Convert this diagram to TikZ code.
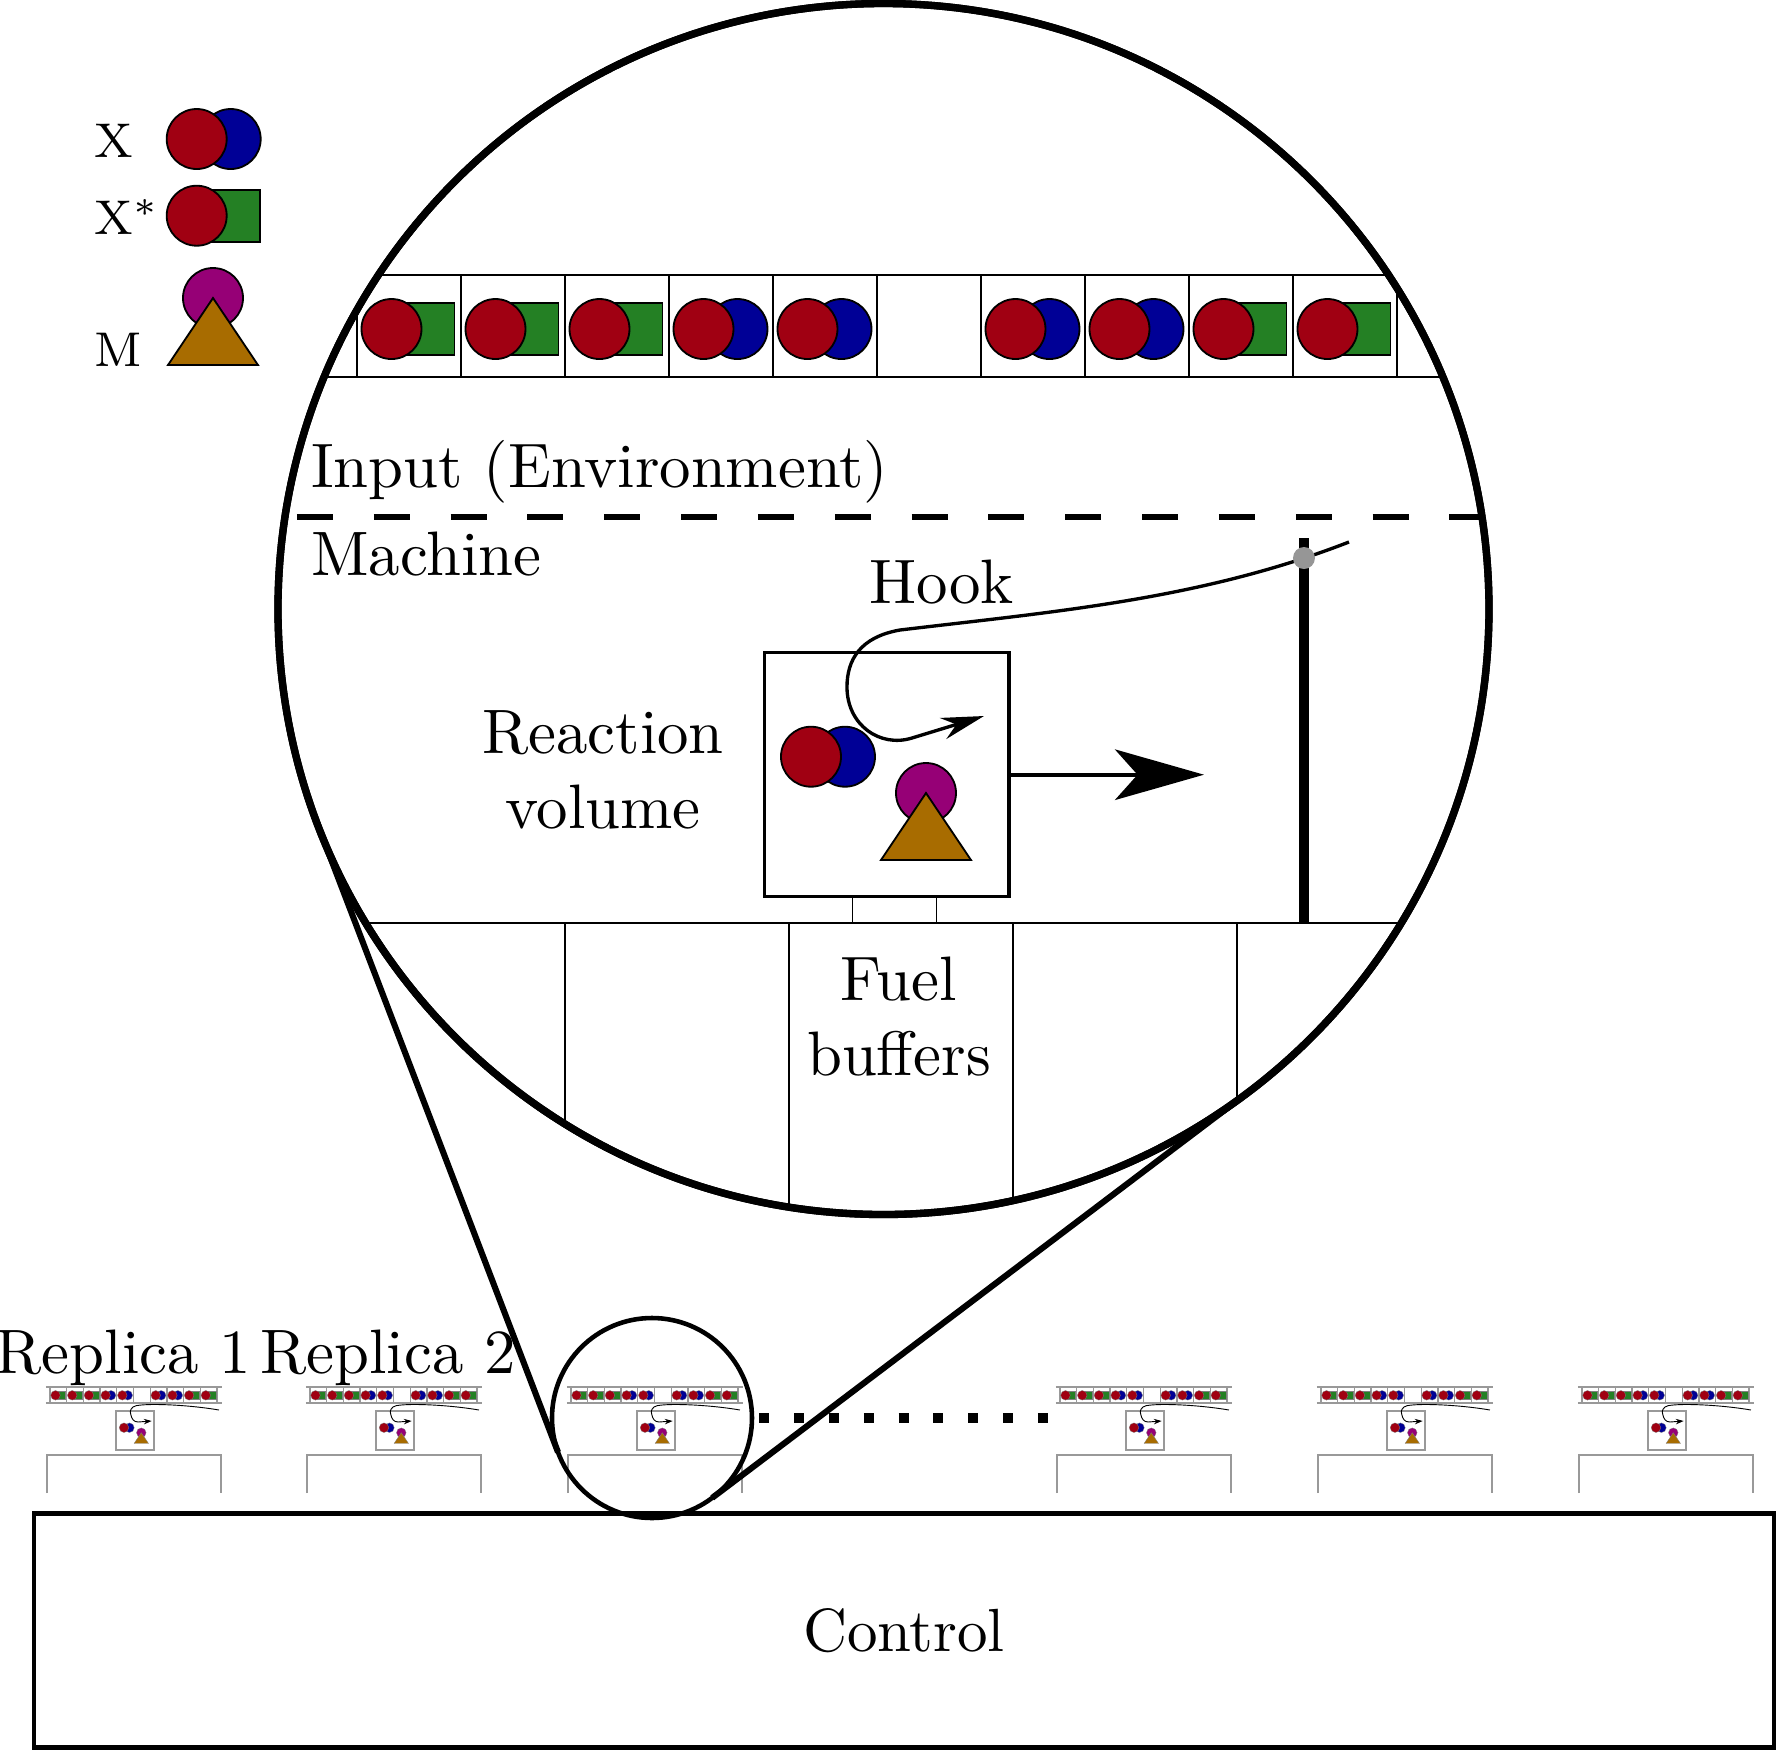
\documentclass[tikz,border=0pt]{standalone}
\usepackage{tikz}
\usetikzlibrary{arrows.meta,positioning,calc}
\usepackage{xcolor}
\definecolor{xred}{RGB}{160,0,18}
\definecolor{xblue}{RGB}{0,0,150}
\definecolor{xgreen}{RGB}{36,128,36}
\definecolor{mpurple}{RGB}{150,0,118}
\definecolor{mbrown}{RGB}{168,108,0}
\definecolor{hingegrey}{RGB}{150,150,150}
\newcommand{\pxu}{0.164pt}

\tikzset{
  mol/.style={draw=black, line width=0.3pt},
  mini/.style={draw=black!40, line width=0.2pt},
  molx/.pic={
    \path[mol, fill=xblue] (34,0) circle (30);
    \path[mol, fill=xred] (0,0) circle (30);
  },
  molxs/.pic={
    \path[mol, fill=xgreen] (0,-26) rectangle (63,26);
    \path[mol, fill=xred] (0,0) circle (30);
  },
  molm/.pic={
    \path[mol, fill=mpurple] (0,0) circle (30);
    \path[mol, fill=mbrown] (0,0) -- (45,67) -- (-45,67) -- cycle;
  },
  emptycell/.pic={},
  % one replica, drawn small
  minirep/.pic={
    \tikzset{mol/.style={draw=black!50, line width=0.05pt}}
    \draw[mini] (-4,0) -- (172,0) (-4,16) -- (172,16);
    \foreach \k in {0,...,10}
      \draw[mini] (16.7*\k,0) -- (16.7*\k,16);
    \foreach \m [count=\k from 0] in {molxs,molxs,molxs,molx,molx,emptycell,molx,molx,molxs,molxs}
      \pic[scale=0.16] at (16.7*\k+5.5,8.3) {\m};
    \draw[mini] (66,24) rectangle (104,63);
    \pic[scale=0.16] at (74,40.7) {molx};
    \pic[scale=0.16] at (91.3,45.7) {molm};
    \draw[line width=0.15pt, -{Stealth[length=1.3pt, width=0.9pt]}]
      (169,23) .. controls (140,18) and (100,16) .. (86,18.7)
      .. controls (81,20) and (79.5,24) .. (80.7,27)
      .. controls (81.5,32) and (84,35) .. (88,35) -- (101.7,34);
    \draw[mini] (-3,106) -- (-3,68) -- (171,68) -- (171,106);
  },
}

\begin{document}
\begin{tikzpicture}[
  x=\pxu, y=-\pxu,
  lbl/.style={inner sep=0pt, font=\fontsize{10.3}{12.3}\selectfont},
  legend/.style={inner sep=0pt, font=\footnotesize},
  tape/.style={line width=0.35pt},
  fuelline/.style={line width=0.28pt},
  divider/.style={line width=1.1pt, dash pattern=on 5.9pt off 6.7pt},
  rvbox/.style={draw, line width=0.5pt, minimum width=244.5*\pxu, minimum height=244*\pxu, inner sep=0pt, outer sep=0pt},
  bigarrow/.style={line width=0.6pt, -{Stealth[length=14.6pt, width=8.3pt, inset=3.7pt]}},
  hookline/.style={line width=0.55pt, -{Stealth[length=7pt, width=3.6pt]}},
  pole/.style={line width=1.8pt},
  ring/.style={circle, draw, inner sep=0pt, outer sep=0pt},
  spyline/.style={line width=1pt},
  dotrow/.style={line width=1.64pt, dash pattern=on 1.64pt off 4.07pt},
]
\useasboundingbox (0,0) rectangle (1778,1752);

% legend
\node[legend, anchor=base west] (lblX) at (93,157) {X};
\pic at (196.7,139) {molx};
\node[legend, anchor=base west] (lblXs) at (93,234) {X$^*$};
\pic at (196.7,215.7) {molxs};
\node[legend, anchor=base west] (lblM) at (93,366) {M};
\pic at (213,298) {molm};

% replicas on the control
\foreach \ox in {50,310,571,1060,1321,1582}
  \pic at (\ox,1387) {minirep};
\node[lbl, anchor=base] (rep1) at (123.5,1373) {Replica 1};
\node[lbl, anchor=base] (rep2) at (388,1373) {Replica 2};
\draw[dotrow] (759.4,1417.7) -- (1050,1417.7);
\node[draw, line width=0.8pt, minimum width=1740*\pxu, minimum height=233.5*\pxu, inner sep=0pt, outer sep=0pt] (control) at (904,1630.5) {Control};

% magnified replica
\coordinate (zc) at (883.5,609);
\node[ring, line width=0.75pt, minimum size=200*\pxu] (lens) at (652,1418) {};
\node[ring, line width=1.2pt, minimum size=1211*\pxu] (zoom) at (zc) {};
\draw[spyline] (zoom.200.95) -- (lens.200.95);
\draw[spyline] (zoom.307.11) -- (lens.307.11);

\begin{scope}
  \clip (zc) circle (605.5);
  \draw[tape] (250,275) -- (1520,275) (250,377) -- (1520,377);
  \foreach \k in {0,...,10}
    \draw[tape] (357+104*\k,275) -- (357+104*\k,377);
  \foreach \m [count=\k from 0] in {molxs,molxs,molxs,molx,molx,emptycell,molx,molx,molxs,molxs}
    \pic at (391.5+104*\k,329) {\m};
  \node[lbl, anchor=base west] (input) at (310,487) {Input (Environment)};
  \draw[divider] (297,517) -- (1500,517);
  \node[lbl, anchor=base west] (machine) at (310,575) {Machine};

  \node[rvbox] (rv) at (886.75,774.7) {};
  \pic at (811,756.7) {molx};
  \pic at (926,793) {molm};
  \node[lbl, align=center] (reaction) at (603,770) {Reaction\\volume};
  \coordinate (push) at (1204,774.7);
  \draw[bigarrow] (rv.east) -- (push);

  \draw[pole] (1304,538) -- (1304,922);
  \draw[hookline] (1349,542) .. controls (1200,600) and (1050,612) .. (900,630)
    .. controls (860,637) and (847,660) .. (847,687)
    .. controls (847,725) and (880,748) .. (912,738) -- (984,716);
  \fill[hingegrey] (1304,558) circle (11);
  \node[lbl, anchor=base west] (hook) at (868,603) {Hook};

  \draw[fuelline] (852.4,896.7) -- (852.4,923) (936.6,896.7) -- (936.6,923);
  \draw[fuelline] (250,923) -- (1520,923);
  \foreach \x in {565,789,1013,1237}
    \draw[fuelline] (\x,923) -- (\x,1300);
  \node[lbl, align=center] (fuel) at (899,1016.5) {Fuel\\buffers};
\end{scope}
\node[ring, line width=1.2pt, minimum size=1211*\pxu] at (zc) {};
\end{tikzpicture}
\end{document}
